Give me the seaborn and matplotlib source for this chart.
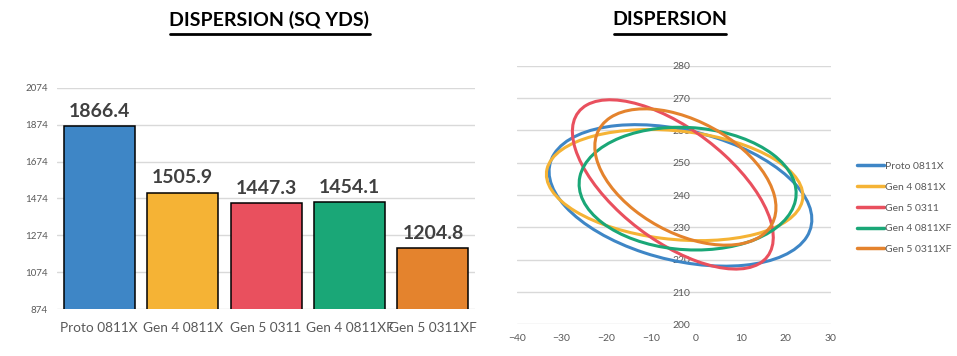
import numpy as np
import pandas as pd
import seaborn as sns
import matplotlib.pyplot as plt
from matplotlib.patches import Ellipse
from matplotlib.lines import Line2D

# data
clubs = ["Proto 0811X", "Gen 4 0811X", "Gen 5 0311", "Gen 4 0811XF", "Gen 5 0311XF"]
area_sq_yds = [1866.4, 1505.9, 1447.3, 1454.1, 1204.8]
colors = ["#3E86C6", "#F5B335", "#E9505E", "#1AA777", "#E4832D"]
bar_ticks = [874, 1074, 1274, 1474, 1674, 1874, 2074]

# dispersion ellipses: centre, half spans in x/y and the x-y coupling term
center_x = [-3.5, -4.8, -5.2, -1.9, -2.4]
center_y = [239.9, 243.1, 243.3, 242.0, 245.6]
half_x = [29.3, 28.6, 22.4, 24.2, 20.2]
half_y = [21.9, 17.2, 26.2, 19.0, 21.1]
coupling = [-218, -95, -367, -35, -191]
x_ticks = [-40, -30, -20, -10, 0, 10, 20, 30]
y_ticks = [200, 210, 220, 230, 240, 250, 260, 270, 280]

sns.set_theme(style="white")
plt.rcParams['font.family'] = ['Lato', 'DejaVu Sans']

fig = plt.figure(figsize=(9.57, 3.56), dpi=100)
ax1 = fig.add_axes([0.060, 0.132, 0.436, 0.621])
ax2 = fig.add_axes([0.540, 0.089, 0.328, 0.726])

grid_c = "#D9D9D9"
tick_c = "#595959"

# ---- bar chart
df = pd.DataFrame({"club": clubs, "area": area_sq_yds})
sns.barplot(data=df, x="club", y="area", hue="club", palette=colors, legend=False,
            saturation=1, width=0.85, edgecolor="black", linewidth=1.1, ax=ax1, zorder=3)
ax1.set_ylim(874, 2074)
ax1.set_yticks(bar_ticks)
ax1.set_yticklabels([str(t) for t in bar_ticks], fontsize=7, color=tick_c)
ax1.tick_params(axis="x", labelsize=9.8, colors=tick_c, length=0, pad=9)
ax1.tick_params(axis="y", length=0, pad=7)
ax1.grid(axis="y", color=grid_c, linewidth=1, zorder=0)
ax1.set_axisbelow(True)
for s in ax1.spines.values():
    s.set_visible(False)
ax1.set_xlabel("")
ax1.set_ylabel("")
ax1.set_xlim(-0.5, 4.5)
for i, v in enumerate(area_sq_yds):
    ax1.text(i, v + 35, f"{v:.1f}", ha="center", va="bottom", fontsize=14,
             fontweight="bold", color="#404040")

# ---- ellipse chart
for cx, cy, hx, hy, cxy, col in zip(center_x, center_y, half_x, half_y, coupling, colors):
    m = np.array([[hx ** 2, cxy], [cxy, hy ** 2]])
    vals, vecs = np.linalg.eigh(m)
    ang = np.degrees(np.arctan2(vecs[1, 1], vecs[0, 1]))
    ax2.add_patch(Ellipse((cx, cy), 2 * np.sqrt(vals[1]), 2 * np.sqrt(vals[0]),
                          angle=ang, fill=False, edgecolor=col, linewidth=2.2, zorder=3))
ax2.set_xlim(-40, 30)
ax2.set_ylim(200, 280)
ax2.set_xticks(x_ticks)
ax2.set_yticks(y_ticks)
ax2.tick_params(axis="both", labelsize=7.5, colors=tick_c, length=0)
ax2.grid(axis="y", color=grid_c, linewidth=1, zorder=0)
ax2.set_axisbelow(True)
for s in ax2.spines.values():
    s.set_visible(False)
ax2.spines["left"].set_position(("data", 0))
ax2.tick_params(axis="y", pad=4)
ax2.tick_params(axis="x", pad=7)

handles = [Line2D([0], [0], color=c, linewidth=2.5) for c in colors]
leg = fig.legend(handles, clubs, loc="upper left", bbox_to_anchor=(0.886, 0.572),
                 frameon=False, fontsize=7.5, handlelength=2.6, handletextpad=0.1,
                 labelspacing=1.1, labelcolor=tick_c)

fig.text(0.281, 0.944, "DISPERSION (SQ YDS)", ha="center", va="center",
         fontsize=14, fontweight="bold", color="black")
fig.text(0.700, 0.944, "DISPERSION", ha="center", va="center",
         fontsize=14, fontweight="bold", color="black")
# underlines for titles
fig.add_artist(Line2D([0.178, 0.387], [0.905, 0.905], color="black", linewidth=2))
fig.add_artist(Line2D([0.642, 0.759], [0.905, 0.905], color="black", linewidth=2))

fig.savefig("out.png", dpi=100)
